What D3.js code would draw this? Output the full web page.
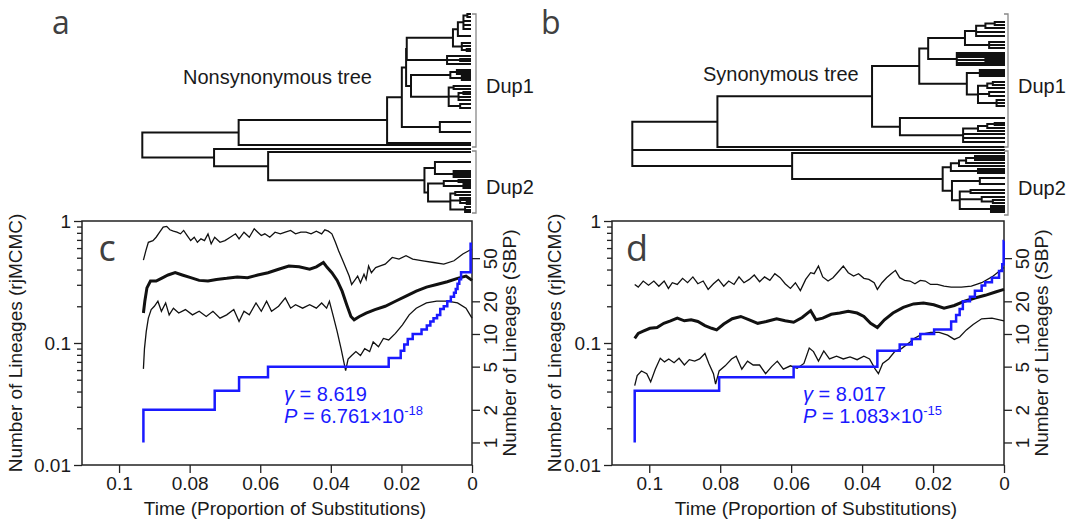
<!DOCTYPE html>
<html>
<head>
<meta charset="utf-8">
<style>
  body { margin: 0; background: #fff; }
  svg text { font-family: "Liberation Sans", Arial, sans-serif; fill: #1a1a1a; }
  .branch { fill: none; stroke: #111; stroke-width: 2; stroke-linecap: square; }
  .bracket { fill: none; stroke: #888; stroke-width: 1.3; }
  .box { fill: none; stroke: #222; stroke-width: 1.5; }
  .axis line { stroke: #222; stroke-width: 1.3; }
  .axis path { display: none; }
  .axis text { font-size: 19px; fill: #1a1a1a; }
  .ci { fill: none; stroke: #111; stroke-width: 1.3; }
  .med { fill: none; stroke: #111; stroke-width: 3; }
  .ltt { fill: none; stroke: #1a1aff; stroke-width: 2.5; }
  .letter { font-family: "Open Sans", sans-serif; fill: #404040; }
</style>
</head>
<body>
<script src="https://d3js.org/d3.v7.min.js"></script>
<script>
// trees: node = [depth (0 root .. 100 tips), children...], leaf = tip slot (0..200)
var treeNonsyn = [0,
  [29.4,
    [74.7,
      [79.2,
        [80.5,
          [80.7,
            [94.8,
              [96.3, [98.0, [99.2, 2, 5], 9, 13, 17], 24],
              [97.5, 31, 34, [99, 37, 39]]],
            [93.0, 44, [97, 47, 49], 52]],
          [82.0,
            [94, [96, 58, 60, 62], [97.5, 64, 66, 68]],
            [93.5, [95, 74, 77], [96.5, [98, 80, 82], 85, 88], [97, 92, 96]]]],
        [90.8, 110, 120]],
      131],
    133],
  [21.9,
    137,
    [38.4,
      140,
      [86.1,
        [89.3, 150, [95, 159, 161, 163, 165]],
        [87.2,
          [92, [96.5, 168, 170], [98, 172, 174, 176]],
          [94, [95.5, 180, 183], [97, 186, 188, [99, 190, 192]], [98.5, 195, 198, 200]]]]]]];

var treeSyn = [0,
  [22.9,
    [64.5,
      [77.2,
        [79.6,
          [89.5,
            [92.5, [95, [97.5, 10, 13], 16], 20, 24],
            [96, 30, 33, 36]],
          [87.3, 41, 43, 45, [95, 47, 49], 51, 53]],
        [90.0,
          [93.5, 58, 60, 62, 64],
          [93, [95.5, [97, 70, 73], 76], [96, 80, 84], [98, 88, 91, 94]]]],
      [72.0,
        106,
        [89.0, [93, [95.5, [97.5, 111, 113], 116], 119], 122, 126, 130]]],
    135],
  138,
  [43.0,
    141,
    [83.5,
      [85.7,
        [87.9, [89.8, [92.2, 144, 146, 148], 151], 154],
        [93, 157, 159, 161]],
      [86.0,
        [93.5, 166, 172],
        [88.1, [91, 178, 181], [94, 185, [97, 188, 191]], [96.5, 194, 196, 198, 200]]]]]];

var dupNames = ["Dup1", "Dup2"];
var dupRangesNonsyn = [[2, 135], [139, 201]];
var dupRangesSyn = [[2, 135], [139, 203]];

// panel c (nonsynonymous) : [time, lineages]
var cUpper = [[0.0931,0.478],[0.0924,0.571],[0.0917,0.669],[0.0904,0.691],[0.0895,0.736],[0.0885,0.810],[0.0875,0.892],[0.0865,0.903],[0.0856,0.847],[0.0846,0.826],[0.0836,0.810],[0.0826,0.785],[0.0817,0.837],[0.0807,0.760],[0.0797,0.691],[0.0787,0.736],[0.0778,0.669],[0.0768,0.714],[0.0758,0.691],[0.0748,0.785],[0.0739,0.649],[0.0729,0.736],[0.0714,0.669],[0.0700,0.691],[0.0685,0.736],[0.0670,0.785],[0.0660,0.714],[0.0646,0.810],[0.0631,0.736],[0.0617,0.864],[0.0607,0.810],[0.0597,0.760],[0.0587,0.785],[0.0573,0.736],[0.0558,0.810],[0.0543,0.785],[0.0529,0.810],[0.0514,0.837],[0.0500,0.785],[0.0485,0.810],[0.0470,0.810],[0.0456,0.785],[0.0441,0.826],[0.0426,0.785],[0.0417,0.847],[0.0407,0.826],[0.0397,0.785],[0.0387,0.669],[0.0378,0.571],[0.0368,0.487],[0.0358,0.415],[0.0348,0.354],[0.0341,0.302],[0.0334,0.322],[0.0324,0.354],[0.0316,0.312],[0.0306,0.366],[0.0300,0.332],[0.0293,0.428],[0.0285,0.377],[0.0273,0.415],[0.0260,0.428],[0.0246,0.443],[0.0226,0.503],[0.0207,0.487],[0.0187,0.519],[0.0168,0.487],[0.0139,0.472],[0.0109,0.457],[0.0080,0.443],[0.0051,0.472],[0.0026,0.536],[0,0.589]];
var cMedian = [[0.0931,0.176],[0.0927,0.220],[0.0921,0.283],[0.0911,0.322],[0.0895,0.322],[0.0880,0.339],[0.0861,0.361],[0.0841,0.377],[0.0821,0.361],[0.0797,0.343],[0.0773,0.326],[0.0748,0.322],[0.0724,0.332],[0.0695,0.339],[0.0665,0.348],[0.0636,0.343],[0.0607,0.361],[0.0578,0.377],[0.0548,0.402],[0.0519,0.428],[0.0490,0.421],[0.0460,0.402],[0.0441,0.421],[0.0421,0.457],[0.0410,0.415],[0.0397,0.377],[0.0382,0.326],[0.0368,0.266],[0.0355,0.206],[0.0343,0.165],[0.0334,0.155],[0.0319,0.165],[0.0300,0.176],[0.0275,0.188],[0.0246,0.200],[0.0217,0.220],[0.0187,0.242],[0.0158,0.266],[0.0129,0.287],[0.0100,0.302],[0.0070,0.318],[0.0041,0.339],[0.0017,0.354],[0,0.326]];
var cLower = [[0.0931,0.0614],[0.0928,0.090],[0.0923,0.124],[0.0917,0.160],[0.0909,0.188],[0.0900,0.200],[0.0890,0.220],[0.0880,0.182],[0.0868,0.213],[0.0858,0.170],[0.0846,0.193],[0.0831,0.176],[0.0812,0.188],[0.0792,0.170],[0.0773,0.182],[0.0753,0.165],[0.0734,0.182],[0.0714,0.160],[0.0695,0.170],[0.0675,0.188],[0.0660,0.150],[0.0646,0.182],[0.0631,0.170],[0.0612,0.213],[0.0597,0.182],[0.0582,0.220],[0.0568,0.182],[0.0548,0.200],[0.0529,0.234],[0.0514,0.193],[0.0500,0.206],[0.0480,0.193],[0.0460,0.206],[0.0441,0.193],[0.0426,0.213],[0.0412,0.193],[0.0404,0.220],[0.0394,0.170],[0.0382,0.124],[0.0371,0.090],[0.0358,0.0595],[0.0351,0.074],[0.0341,0.079],[0.0329,0.085],[0.0316,0.079],[0.0304,0.090],[0.0290,0.085],[0.0280,0.102],[0.0265,0.093],[0.0251,0.109],[0.0236,0.106],[0.0217,0.120],[0.0197,0.141],[0.0178,0.170],[0.0158,0.193],[0.0129,0.213],[0.0100,0.220],[0.0070,0.220],[0.0041,0.213],[0.0017,0.193],[0,0.160]];
var cLtt = [[0.0931,1],[0.0931,2],[0.0729,3],[0.0660,4],[0.0578,5],[0.0236,6],[0.0202,7],[0.0192,8],[0.0182,9],[0.0168,10],[0.0143,11],[0.0128,12],[0.0118,13],[0.0109,14],[0.0099,15],[0.0090,17],[0.0080,18],[0.0070,20],[0.0060,22],[0.0051,24],[0.0046,26],[0.0041,29],[0.0036,32],[0.0031,37],[0.0004,68],[0,68]];
var cStats = ["8.619", "6.761", "-18"];

// panel d (synonymous)
var dUpper = [[0.1041,0.302],[0.1031,0.287],[0.1017,0.322],[0.1002,0.298],[0.0987,0.322],[0.0973,0.292],[0.0958,0.322],[0.0946,0.280],[0.0935,0.312],[0.0921,0.302],[0.0906,0.339],[0.0892,0.312],[0.0877,0.348],[0.0863,0.306],[0.0848,0.322],[0.0834,0.275],[0.0819,0.306],[0.0805,0.332],[0.0790,0.292],[0.0776,0.322],[0.0761,0.302],[0.0747,0.348],[0.0733,0.312],[0.0718,0.332],[0.0704,0.361],[0.0689,0.318],[0.0675,0.348],[0.0660,0.326],[0.0646,0.370],[0.0631,0.343],[0.0617,0.306],[0.0602,0.280],[0.0588,0.312],[0.0574,0.269],[0.0559,0.332],[0.0545,0.377],[0.0535,0.370],[0.0523,0.428],[0.0511,0.348],[0.0496,0.322],[0.0482,0.343],[0.0467,0.384],[0.0453,0.428],[0.0439,0.377],[0.0424,0.354],[0.0410,0.370],[0.0395,0.339],[0.0381,0.332],[0.0366,0.312],[0.0357,0.275],[0.0344,0.312],[0.0331,0.343],[0.0318,0.370],[0.0306,0.394],[0.0294,0.343],[0.0280,0.326],[0.0265,0.322],[0.0251,0.306],[0.0236,0.326],[0.0222,0.322],[0.0207,0.302],[0.0188,0.302],[0.0169,0.292],[0.0149,0.287],[0.0120,0.287],[0.0092,0.292],[0.0063,0.312],[0.0034,0.348],[0,0.415]];
var dMedian = [[0.1041,0.109],[0.1031,0.120],[0.1017,0.125],[0.0998,0.132],[0.0978,0.134],[0.0959,0.145],[0.0940,0.152],[0.0921,0.160],[0.0901,0.152],[0.0882,0.155],[0.0863,0.150],[0.0843,0.139],[0.0824,0.132],[0.0810,0.128],[0.0790,0.143],[0.0766,0.158],[0.0742,0.165],[0.0718,0.155],[0.0694,0.145],[0.0670,0.150],[0.0641,0.158],[0.0617,0.152],[0.0593,0.148],[0.0569,0.162],[0.0545,0.184],[0.0530,0.155],[0.0511,0.160],[0.0487,0.172],[0.0463,0.176],[0.0439,0.182],[0.0414,0.176],[0.0395,0.165],[0.0376,0.145],[0.0357,0.134],[0.0337,0.155],[0.0313,0.176],[0.0284,0.196],[0.0255,0.209],[0.0227,0.213],[0.0198,0.206],[0.0169,0.193],[0.0140,0.203],[0.0111,0.220],[0.0082,0.234],[0.0053,0.246],[0.0024,0.262],[0,0.275]];
var dLower = [[0.1041,0.0447],[0.1034,0.054],[0.1022,0.059],[0.1007,0.056],[0.0996,0.048],[0.0983,0.061],[0.0969,0.075],[0.0957,0.070],[0.0945,0.074],[0.0930,0.069],[0.0916,0.075],[0.0901,0.066],[0.0887,0.073],[0.0872,0.071],[0.0858,0.074],[0.0843,0.082],[0.0832,0.068],[0.0819,0.056],[0.0813,0.046],[0.0803,0.059],[0.0786,0.065],[0.0768,0.074],[0.0755,0.078],[0.0739,0.061],[0.0723,0.071],[0.0707,0.066],[0.0689,0.066],[0.0672,0.056],[0.0655,0.064],[0.0639,0.071],[0.0622,0.061],[0.0602,0.065],[0.0583,0.062],[0.0564,0.068],[0.0549,0.091],[0.0537,0.085],[0.0523,0.071],[0.0508,0.086],[0.0492,0.074],[0.0472,0.078],[0.0453,0.074],[0.0434,0.077],[0.0414,0.073],[0.0395,0.078],[0.0379,0.074],[0.0363,0.061],[0.0354,0.056],[0.0342,0.068],[0.0325,0.074],[0.0308,0.085],[0.0289,0.090],[0.0270,0.099],[0.0251,0.110],[0.0231,0.118],[0.0207,0.122],[0.0183,0.122],[0.0159,0.116],[0.0140,0.107],[0.0125,0.112],[0.0106,0.128],[0.0087,0.142],[0.0063,0.158],[0.0034,0.160],[0,0.152]];
var dLtt = [[0.1041,1],[0.1041,3],[0.0803,4],[0.0593,5],[0.0357,7],[0.0294,8],[0.0260,9],[0.0236,10],[0.0197,11],[0.0149,13],[0.0135,15],[0.0125,17],[0.0116,20],[0.0096,22],[0.0082,25],[0.0063,28],[0.0053,30],[0.0034,33],[0.0014,38],[0.0005,44],[0.0001,72],[0,72]];
var dStats = ["8.017", "1.083", "-15"];

var timeTicks = [0.1, 0.08, 0.06, 0.04, 0.02, 0];
var leftTicks = [1, 0.1, 0.01];
var leftMinor = [0.02,0.03,0.04,0.05,0.06,0.07,0.08,0.09,0.2,0.3,0.4,0.5,0.6,0.7,0.8,0.9];
var rightTicks = [1, 2, 5, 10, 20, 50];

var svg = d3.select("body").append("svg").attr("width", 1077).attr("height", 521);
var tipY = d3.scaleLinear().domain([0, 200]).range([12, 212]);

function drawTree(data, x0, x1) {
  var x = d3.scaleLinear().domain([0, 100]).range([x0, x1]);
  var root = d3.hierarchy(data, function (d) { return Array.isArray(d) ? d.slice(1) : null; });
  root.eachAfter(function (n) {
    if (n.children) {
      n.h = n.data[0];
      n.pos = (n.children[0].pos + n.children[n.children.length - 1].pos) / 2;
    } else {
      n.h = 100;
      n.pos = n.data;
    }
  });
  var d = "";
  root.each(function (n) {
    if (!n.children) return;
    var px = x(n.h);
    var first = n.children[0], last = n.children[n.children.length - 1];
    d += "M" + x(first.h) + "," + tipY(first.pos) + "H" + px + "V" + tipY(last.pos) + "H" + x(last.h);
    n.children.slice(1, -1).forEach(function (c) {
      d += "M" + px + "," + tipY(c.pos) + "H" + x(c.h);
    });
  });
  svg.append("path").attr("class", "branch").attr("d", d);
}

function drawBrackets(ranges, bx) {
  ranges.forEach(function (r, i) {
    svg.append("path").attr("class", "bracket")
      .attr("d", "M" + (bx - 4) + "," + tipY(r[0]) + "H" + bx + "V" + tipY(r[1]) + "H" + (bx - 4));
    svg.append("text")
      .attr("x", bx + 10)
      .attr("y", (tipY(r[0]) + tipY(r[1])) / 2 + 5)
      .attr("dy", "0.35em")
      .style("font-size", "20px")
      .text(dupNames[i]);
  });
}

// top panels
drawTree(treeNonsyn, 142.3, 470);
drawBrackets(dupRangesNonsyn, 476);
svg.append("text").attr("x", 183).attr("y", 84).style("font-size", "20px").text("Nonsynonymous tree");
svg.append("text").attr("class", "letter").attr("x", 52).attr("y", 34).style("font-size", "32px").text("a");

drawTree(treeSyn, 632.3, 1004);
drawBrackets(dupRangesSyn, 1008);
svg.append("text").attr("x", 703).attr("y", 81).style("font-size", "20px").text("Synonymous tree");
svg.append("text").attr("class", "letter").attr("x", 541).attr("y", 34).style("font-size", "32px").text("b");

// bottom panels
var plotTop = 221, plotBottom = 465;

function drawPlot(p) {
  var g = svg.append("g");
  var x = d3.scaleLinear().domain([0.1105, 0]).range([p.left, p.right]);
  var y = d3.scaleLog().domain([0.01, 1]).range([plotBottom, plotTop]);
  var yR = d3.scaleLog().domain([0.62, 110]).range([plotBottom, plotTop]);

  g.append("g").attr("class", "axis")
    .attr("transform", "translate(0," + plotBottom + ")")
    .call(d3.axisBottom(x).tickValues(timeTicks).tickFormat(function (d) { return String(d); })
      .tickSize(8).tickPadding(4));

  g.append("g").attr("class", "axis")
    .attr("transform", "translate(" + p.left + ",0)")
    .call(d3.axisLeft(y).tickValues(leftTicks).tickFormat(function (d) { return String(d); })
      .tickSize(8).tickPadding(3));
  g.append("g").attr("class", "axis")
    .attr("transform", "translate(" + p.left + ",0)")
    .call(d3.axisLeft(y).tickValues(leftMinor).tickFormat("").tickSize(5));

  var ra = g.append("g").attr("class", "axis")
    .attr("transform", "translate(" + p.right + ",0)")
    .call(d3.axisRight(yR).tickValues(rightTicks).tickFormat(function (d) { return String(d); })
      .tickSize(8));
  ra.selectAll(".tick text")
    .attr("x", 0).attr("dy", "0.35em")
    .attr("transform", "translate(18,0) rotate(-90)")
    .style("text-anchor", "middle");

  g.append("rect").attr("class", "box")
    .attr("x", p.left).attr("y", plotTop)
    .attr("width", p.right - p.left).attr("height", plotBottom - plotTop);

  var line = d3.line().x(function (d) { return x(d[0]); }).y(function (d) { return y(d[1]); });
  g.append("path").attr("class", "ci").attr("d", line(p.upper));
  g.append("path").attr("class", "ci").attr("d", line(p.lower));
  g.append("path").attr("class", "med").attr("d", line(p.median));

  var step = d3.line().curve(d3.curveStepAfter)
    .x(function (d) { return x(d[0]); }).y(function (d) { return yR(d[1]); });
  g.append("path").attr("class", "ltt").attr("d", step(p.ltt));

  // gamma statistic
  var ax = p.statX;
  var t1 = g.append("text").attr("x", ax).attr("y", 401).style("font-size", "20px").style("fill", "#1a1aff");
  t1.append("tspan").style("font-style", "italic").text("\u03b3");
  t1.append("tspan").text(" = " + p.stats[0]);
  var t2 = g.append("text").attr("x", ax).attr("y", 423).style("font-size", "20px").style("fill", "#1a1aff");
  t2.append("tspan").style("font-style", "italic").text("P");
  t2.append("tspan").text(" = " + p.stats[1] + "\u00d710");
  t2.append("tspan").attr("dy", -8).style("font-size", "13px").text(p.stats[2]);

  // axis titles
  var midY = (plotTop + plotBottom) / 2;
  g.append("text")
    .attr("transform", "translate(" + p.leftTitleX + "," + midY + ") rotate(-90)")
    .style("text-anchor", "middle").style("font-size", "19px")
    .text("Number of Lineages (rjMCMC)");
  g.append("text")
    .attr("transform", "translate(" + (p.right + 44) + "," + midY + ") rotate(-90)")
    .style("text-anchor", "middle").style("font-size", "19px")
    .text("Number of Lineages (SBP)");
  g.append("text")
    .attr("x", (p.left + p.right) / 2 + 8).attr("y", 515)
    .style("text-anchor", "middle").style("font-size", "19px")
    .text("Time (Proportion of Substitutions)");

  g.append("text").attr("class", "letter")
    .attr("x", p.left + 25).attr("y", plotTop + 40)
    .style("text-anchor", "middle").style("font-size", "36px")
    .text(p.letter);
}

drawPlot({ left: 82, right: 472, upper: cUpper, median: cMedian, lower: cLower, ltt: cLtt,
  stats: cStats, statX: 284, letter: "c", leftTitleX: 22 });
drawPlot({ left: 612, right: 1004, upper: dUpper, median: dMedian, lower: dLower, ltt: dLtt,
  stats: dStats, statX: 803, letter: "d", leftTitleX: 561 });
</script>
</body>
</html>
